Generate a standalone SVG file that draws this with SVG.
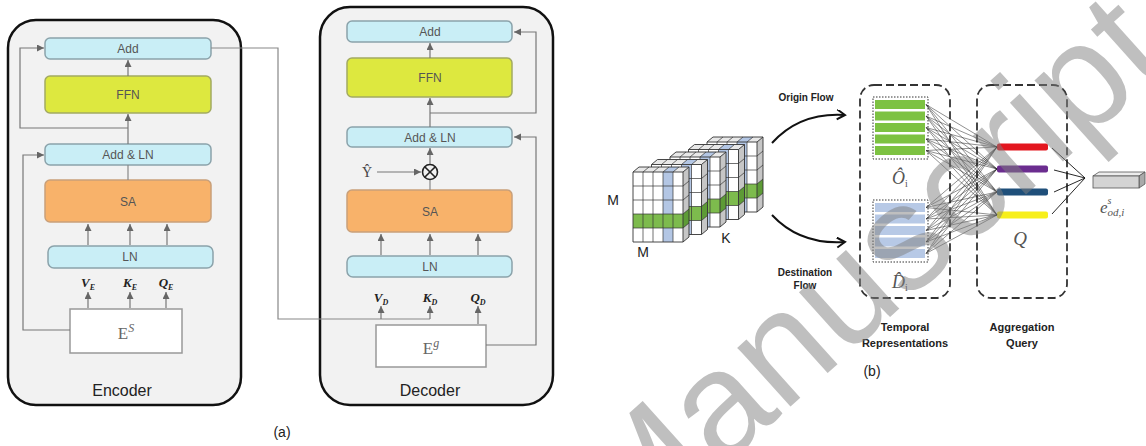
<svg xmlns="http://www.w3.org/2000/svg" xmlns:xlink="http://www.w3.org/1999/xlink" width="1146" height="446" viewBox="0 0 1146 446">
<style>
.frame{fill:#f2f2f2;stroke:#111;stroke-width:2.5}
.cy{fill:#c9eef6;stroke:#8ba3ab;stroke-width:1.5}
.yg{fill:#dde83f;stroke:#a3aa62;stroke-width:1.5}
.or{fill:#f8b26a;stroke:#c9a07a;stroke-width:1.5}
.wb{fill:#fff;stroke:#999;stroke-width:1.5}
.bt{font-family:"Liberation Sans",Arial,sans-serif;font-size:12px;fill:#555;text-anchor:middle}
.ttl{font-family:"Liberation Sans",Arial,sans-serif;font-size:16px;fill:#222;text-anchor:middle}
.mth{font-family:"Liberation Serif","DejaVu Serif",serif;font-style:italic;font-weight:bold;font-size:13px;fill:#222;text-anchor:middle}
.em{font-family:"Liberation Serif","DejaVu Serif",serif;font-size:17px;fill:#666;text-anchor:middle}
.cn{fill:none;stroke:#888;stroke-width:1.2}
.ca{fill:none;stroke:#777;stroke-width:1.2;marker-end:url(#ah)}
.bl{font-family:"Liberation Sans",Arial,sans-serif;font-weight:bold;font-size:10px;fill:#222;text-anchor:middle}
.bl11{font-family:"Liberation Sans",Arial,sans-serif;font-weight:bold;font-size:11px;fill:#222;text-anchor:middle}
.lb{font-family:"Liberation Sans",Arial,sans-serif;font-size:14px;fill:#222;text-anchor:middle}
.dash{fill:none;stroke:#333;stroke-width:1.8;stroke-dasharray:8 4}
.dot{fill:none;stroke:#333;stroke-width:1;stroke-dasharray:1.5 1.5}
.sm{font-family:"Liberation Serif","DejaVu Serif",serif;font-style:italic;fill:#555;text-anchor:middle}
</style>
<defs>
<marker id="ah" markerUnits="userSpaceOnUse" markerWidth="8" markerHeight="8" refX="7" refY="3.5" orient="auto"><path d="M0,0L7,3.5L0,7z" fill="#666"/></marker>
<marker id="chev" markerUnits="userSpaceOnUse" markerWidth="12" markerHeight="12" refX="9" refY="5" orient="auto"><path d="M1,0L9,5L1,10" fill="none" stroke="#111" stroke-width="2"/></marker>
<g id="slab">
<rect width="50" height="70" fill="#fff"/>
<rect x="30" width="10" height="70" fill="#b3c6e4"/>
<rect y="42" width="50" height="14" fill="#7dbb4d"/>
<polygon points="0,0 50,0 56,-5 6,-5" fill="#e8e8e8"/>
<polygon points="30,0 40,0 46,-5 36,-5" fill="#b3c6e4"/>
<polygon points="50,0 56,-5 56,65 50,70" fill="#c6c6c6"/>
<polygon points="50,42 56,37 56,51 50,56" fill="#5d9b36"/>
<path d="M10,0V70M20,0V70M30,0V70M40,0V70M0,14H50M0,28H50M0,42H50M0,56H50M10,0l6,-5M20,0l6,-5M30,0l6,-5M40,0l6,-5M50,14l6,-5M50,28l6,-5M50,42l6,-5M50,56l6,-5" stroke="#333" stroke-width="0.7" fill="none"/>
<path d="M0,0H50V70H0ZM0,0L6,-5H56V65L50,70M50,0L56,-5" stroke="#333" stroke-width="0.9" fill="none"/>
</g>
</defs>
<rect width="1146" height="446" fill="#fff"/>

<!-- Part (a) frames -->
<g id="encoder">
<rect class="frame" x="8" y="20" width="233" height="385" rx="28"/>
<text class="ttl" x="122" y="396">Encoder</text>
</g>
<g id="decoder">
<rect class="frame" x="320" y="7" width="233" height="398" rx="30"/>
<text class="ttl" x="430" y="396">Decoder</text>
</g>

<g id="enc-add"><rect class="cy" x="45" y="38" width="166" height="21" rx="5"/><text class="bt" x="128" y="53">Add</text></g>
<g id="enc-ffn"><rect class="yg" x="45" y="76" width="166" height="37" rx="5"/><text class="bt" x="128" y="99" font-size="13">FFN</text></g>
<g id="enc-addln"><rect class="cy" x="45" y="144" width="166" height="21" rx="5"/><text class="bt" x="128" y="159">Add &amp; LN</text></g>
<g id="enc-sa"><rect class="or" x="45" y="180" width="166" height="42" rx="5"/><text class="bt" x="128" y="206" font-size="13">SA</text></g>
<g id="enc-ln"><rect class="cy" x="48" y="246" width="165" height="22" rx="6"/><text class="bt" x="130" y="261">LN</text></g>
<g id="enc-qkv">
<text class="mth" x="88" y="287">V<tspan font-size="8" dy="3">E</tspan></text>
<text class="mth" x="130" y="287">K<tspan font-size="8" dy="3">E</tspan></text>
<text class="mth" x="166" y="287">Q<tspan font-size="8" dy="3">E</tspan></text>
</g>
<g id="enc-es"><rect class="wb" x="70" y="309" width="112" height="44"/><text class="em" x="126" y="339">E<tspan font-size="12" dy="-7" font-style="italic">S</tspan></text></g>

<g id="dec-add"><rect class="cy" x="347" y="21" width="165" height="21" rx="5"/><text class="bt" x="430" y="36">Add</text></g>
<g id="dec-ffn"><rect class="yg" x="347" y="58" width="165" height="39" rx="5"/><text class="bt" x="430" y="82" font-size="13">FFN</text></g>
<g id="dec-addln"><rect class="cy" x="347" y="127" width="165" height="20" rx="5"/><text class="bt" x="430" y="142">Add &amp; LN</text></g>
<g id="dec-mul"><circle cx="430" cy="172" r="7.5" fill="none" stroke="#222" stroke-width="1.6"/><path d="M424.7,166.7L435.3,177.3M435.3,166.7L424.7,177.3" stroke="#222" stroke-width="1.6"/></g>
<g id="dec-y"><text x="367" y="177" font-family="'Liberation Serif','DejaVu Serif',serif" font-size="14" fill="#444" text-anchor="middle">Ŷ</text></g>
<g id="dec-sa"><rect class="or" x="347" y="190" width="165" height="42" rx="5"/><text class="bt" x="430" y="216" font-size="13">SA</text></g>
<g id="dec-ln"><rect class="cy" x="347" y="256" width="165" height="21" rx="6"/><text class="bt" x="430" y="271">LN</text></g>
<g id="dec-qkv">
<text class="mth" x="381" y="302">V<tspan font-size="8" dy="3">D</tspan></text>
<text class="mth" x="430" y="302">K<tspan font-size="8" dy="3">D</tspan></text>
<text class="mth" x="478" y="302">Q<tspan font-size="8" dy="3">D</tspan></text>
</g>
<g id="dec-eg"><rect class="wb" x="376" y="325" width="110" height="42"/><text class="em" x="431" y="354">E<tspan font-size="12" dy="-7" font-style="italic">g</tspan></text></g>

<g id="connectors-a">
<line class="ca" x1="88" y1="308" x2="88" y2="292"/>
<line class="ca" x1="130" y1="308" x2="130" y2="292"/>
<line class="ca" x1="166" y1="308" x2="166" y2="292"/>
<line class="ca" x1="88" y1="245" x2="88" y2="224"/>
<line class="ca" x1="130" y1="245" x2="130" y2="224"/>
<line class="ca" x1="167" y1="245" x2="167" y2="224"/>
<line class="cn" x1="128" y1="180" x2="128" y2="165"/>
<line class="ca" x1="128" y1="144" x2="128" y2="114"/>
<line class="ca" x1="128" y1="76" x2="128" y2="60"/>
<path class="ca" d="M70,330H23V155H44"/>
<path class="ca" d="M128,128H20V48H44"/>
<path class="cn" d="M211,48H278V319H430"/>
<line class="ca" x1="381" y1="319" x2="381" y2="306"/>
<line class="ca" x1="430" y1="319" x2="430" y2="306"/>
<line class="ca" x1="478" y1="324" x2="478" y2="306"/>
<line class="ca" x1="381" y1="255" x2="381" y2="234"/>
<line class="ca" x1="430" y1="255" x2="430" y2="234"/>
<line class="ca" x1="478" y1="255" x2="478" y2="234"/>
<line class="cn" x1="430" y1="190" x2="430" y2="180"/>
<line class="ca" x1="430" y1="164" x2="430" y2="148"/>
<line class="ca" x1="430" y1="127" x2="430" y2="98"/>
<line class="ca" x1="430" y1="58" x2="430" y2="43"/>
<line class="ca" x1="377" y1="172" x2="421" y2="172"/>
<path class="ca" d="M430,113H536V32H514"/>
<path class="ca" d="M486,345H536V137H514"/>
</g>
<text class="lb" x="282" y="437">(a)</text>

<!-- Part (b) -->
<g id="tensor">
<use xlink:href="#slab" href="#slab" transform="translate(707,142)"/>
<use xlink:href="#slab" href="#slab" transform="translate(688.5,149.5)"/>
<use xlink:href="#slab" href="#slab" transform="translate(670,157)"/>
<use xlink:href="#slab" href="#slab" transform="translate(651.5,164.5)"/>
<use xlink:href="#slab" href="#slab" transform="translate(633,172)"/>
<text class="lb" x="613" y="205">M</text>
<text class="lb" x="643" y="257">M</text>
<text class="lb" x="726" y="243">K</text>
</g>

<g id="temporal">
<rect class="dash" x="860" y="85" width="90" height="213" rx="14"/>
<rect class="dot" x="873" y="97" width="55" height="62"/>
<g fill="#7dc242">
<rect x="875" y="100" width="50" height="9"/><rect x="875" y="111.5" width="50" height="9"/><rect x="875" y="123" width="50" height="9"/><rect x="875" y="134.5" width="50" height="9"/><rect x="875" y="146" width="50" height="9"/>
</g>
<rect class="dot" x="873" y="200" width="55" height="62"/>
<g fill="#b7c9e6">
<rect x="875" y="203" width="50" height="9"/><rect x="875" y="214.5" width="50" height="9"/><rect x="875" y="226" width="50" height="9"/><rect x="875" y="237.5" width="50" height="9"/><rect x="875" y="249" width="50" height="9"/>
</g>
<text class="sm" x="900" y="184" font-size="18">Ô<tspan font-size="10" font-style="normal" dy="3">i</tspan></text>
<text class="sm" x="900" y="288" font-size="18">D̂<tspan font-size="10" font-style="normal" dy="3">i</tspan></text>
<text class="bl11" x="905" y="331">Temporal</text>
<text class="bl11" x="905" y="347">Representations</text>
</g>

<g id="aggregation">
<rect class="dash" x="977" y="85" width="90" height="213" rx="14"/>
<rect x="997" y="143.5" width="51" height="7" rx="2" fill="#e3161f"/>
<rect x="997" y="165.5" width="51" height="7" rx="2" fill="#6b2d8f"/>
<rect x="997" y="188.5" width="51" height="7" rx="2" fill="#1f4f7a"/>
<rect x="997" y="211.5" width="51" height="7" rx="2" fill="#f7ef1a"/>
<text class="sm" x="1020" y="245" font-size="19" fill="#333">Q</text>
<text class="bl11" x="1022" y="331">Aggregation</text>
<text class="bl11" x="1022" y="347">Query</text>
</g>

<g id="embedding">
<polygon points="1093,176 1139,176 1145,172 1099,172" fill="#ececec" stroke="#555" stroke-width="0.8"/>
<polygon points="1139,176 1145,172 1145,184 1139,188" fill="#aaa" stroke="#555" stroke-width="0.8"/>
<rect x="1093" y="176" width="46" height="12" fill="#d4d4d4" stroke="#555" stroke-width="0.8"/>
<text x="1100" y="213" font-family="'Liberation Serif','DejaVu Serif',serif" font-style="italic" font-size="17" fill="#555">e<tspan font-size="10" dy="-9">s</tspan><tspan font-size="11" dx="-4" dy="12">od,i</tspan></text>
</g>

<g id="connectors-b">
<path d="M772,143Q800,112 845,115" fill="none" stroke="#111" stroke-width="2" marker-end="url(#chev)"/>
<path d="M772,215Q800,245 845,242" fill="none" stroke="#111" stroke-width="2" marker-end="url(#chev)"/>
<text class="bl" x="806" y="101">Origin Flow</text>
<text class="bl" x="805" y="276">Destination</text>
<text class="bl" x="805" y="289">Flow</text>
<path fill="none" stroke="#222" stroke-width="0.5" d="M926,104.5L997,147M926,104.5L997,169M926,104.5L997,192M926,104.5L997,215M926,116L997,147M926,116L997,169M926,116L997,192M926,116L997,215M926,127.5L997,147M926,127.5L997,169M926,127.5L997,192M926,127.5L997,215M926,139L997,147M926,139L997,169M926,139L997,192M926,139L997,215M926,150.5L997,147M926,150.5L997,169M926,150.5L997,192M926,150.5L997,215M926,207.5L997,147M926,207.5L997,169M926,207.5L997,192M926,207.5L997,215M926,219L997,147M926,219L997,169M926,219L997,192M926,219L997,215M926,230.5L997,147M926,230.5L997,169M926,230.5L997,192M926,230.5L997,215M926,242L997,147M926,242L997,169M926,242L997,192M926,242L997,215M926,253.5L997,147M926,253.5L997,169M926,253.5L997,192M926,253.5L997,215"/>
<path fill="none" stroke="#111" stroke-width="0.9" d="M1052,148L1085,178M1054,170L1085,178M1054,192L1085,178M1052,214L1085,178"/>
</g>
<text class="lb" x="872" y="376">(b)</text>

<text transform="translate(628,553) rotate(-42)" font-family="'Liberation Sans',Arial,sans-serif" font-size="150" fill="#808080" opacity="0.5">Manuscript</text>
</svg>
